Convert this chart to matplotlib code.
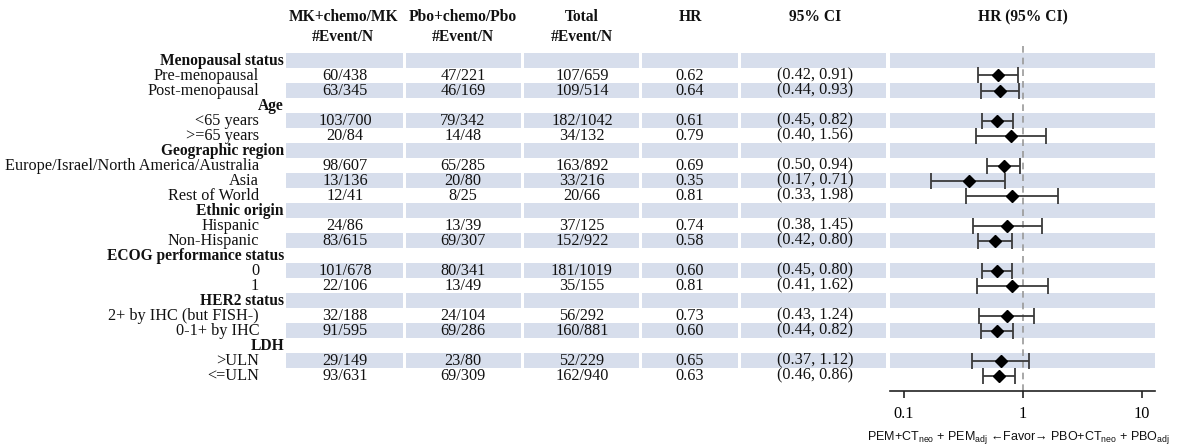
import numpy as np
import matplotlib
matplotlib.use("Agg")
import matplotlib.pyplot as plt
from matplotlib.patches import Rectangle

plt.rcParams['font.family'] = ['Liberation Serif', 'DejaVu Serif']
plt.rcParams['mathtext.fontset'] = 'custom'

# ---- data ----
row_labels = ["Menopausal status", "Pre-menopausal", "Post-menopausal",
              "Age", "<65 years", ">=65 years",
              "Geographic region", "Europe/Israel/North America/Australia", "Asia", "Rest of World",
              "Ethnic origin", "Hispanic", "Non-Hispanic",
              "ECOG performance status", "0", "1",
              "HER2 status", "2+ by IHC (but FISH-)", "0-1+ by IHC",
              "LDH", ">ULN", "<=ULN"]
is_header = [True, False, False, True, False, False, True, False, False, False,
             True, False, False, True, False, False, True, False, False, True, False, False]
mk_events = ["", "60/438", "63/345", "", "103/700", "20/84", "", "98/607", "13/136", "12/41",
             "", "24/86", "83/615", "", "101/678", "22/106", "", "32/188", "91/595", "", "29/149", "93/631"]
pbo_events = ["", "47/221", "46/169", "", "79/342", "14/48", "", "65/285", "20/80", "8/25",
              "", "13/39", "69/307", "", "80/341", "13/49", "", "24/104", "69/286", "", "23/80", "69/309"]
total_events = ["", "107/659", "109/514", "", "182/1042", "34/132", "", "163/892", "33/216", "20/66",
                "", "37/125", "152/922", "", "181/1019", "35/155", "", "56/292", "160/881", "", "52/229", "162/940"]
hr = [np.nan, 0.62, 0.64, np.nan, 0.61, 0.79, np.nan, 0.69, 0.35, 0.81,
      np.nan, 0.74, 0.58, np.nan, 0.60, 0.81, np.nan, 0.73, 0.60, np.nan, 0.65, 0.63]
ci_lo = [np.nan, 0.42, 0.44, np.nan, 0.45, 0.40, np.nan, 0.50, 0.17, 0.33,
         np.nan, 0.38, 0.42, np.nan, 0.45, 0.41, np.nan, 0.43, 0.44, np.nan, 0.37, 0.46]
ci_hi = [np.nan, 0.91, 0.93, np.nan, 0.82, 1.56, np.nan, 0.94, 0.71, 1.98,
         np.nan, 1.45, 0.80, np.nan, 0.80, 1.62, np.nan, 1.24, 0.82, np.nan, 1.12, 0.86]

shade = '#D7DEEC'
fs = 11.7     # body text
fsb = 11.2    # bold headers
txt = '#111111'

fig = plt.figure(figsize=(11.8, 4.48), dpi=100)

# table axes: x in pixels, y in row units
ax = fig.add_axes([0, 0, 1, 1])
ax.set_xlim(0, 1180)
ax.set_ylim(25.83, -4.033)
ax.axis('off')

rows = np.arange(len(row_labels))
col_spans = [(286, 403), (406, 521), (524, 639), (642, 738), (741, 886)]
for i in rows[::2]:
    for x0, x1 in col_spans:
        ax.add_patch(Rectangle((x0, i - 0.5), x1 - x0, 1.0, color=shade, lw=0, zorder=0))

# column headers
hdr_y1, hdr_y2 = -2.9, -1.57
headers = [(343, "MK+chemo/MK", "#Event/N"), (463, "Pbo+chemo/Pbo", "#Event/N"),
           (582, "Total", "#Event/N"), (690, "HR", ""), (815, "95% CI", ""), (1023, "HR (95% CI)", "")]
for x, l1, l2 in headers:
    ax.text(x, hdr_y1, l1, ha='center', va='center', fontsize=fsb, fontweight='bold', color=txt)
    if l2:
        ax.text(x, hdr_y2, l2, ha='center', va='center', fontsize=fsb, fontweight='bold', color=txt)

for i in rows:
    if is_header[i]:
        ax.text(284, i, row_labels[i], ha='right', va='center', fontsize=fsb, fontweight='bold', color=txt)
        continue
    ax.text(259, i, row_labels[i], ha='right', va='center', fontsize=fs, color=txt)
    ax.text(345, i, mk_events[i], ha='center', va='center', fontsize=fs, color=txt)
    ax.text(463, i, pbo_events[i], ha='center', va='center', fontsize=fs, color=txt)
    ax.text(582, i, total_events[i], ha='center', va='center', fontsize=fs, color=txt)
    ax.text(690, i, "{:.2f}".format(hr[i]), ha='center', va='center', fontsize=fs, color=txt)
    ax.text(815, i, "({:.2f}, {:.2f})".format(ci_lo[i], ci_hi[i]), ha='center', va='center', fontsize=fs, color=txt)

# forest plot
fax = fig.add_axes([890 / 1180, (448 - 391) / 448, 265 / 1180, (391 - 45) / 448])
fax.patch.set_alpha(0)
fax.set_xscale('log')
fax.set_xlim(10 ** -1.118, 10 ** 1.109)
fax.set_ylim(22.03, -1.033)
for i in rows[::2]:
    fax.axhspan(i - 0.5, i + 0.5, color=shade, lw=0, zorder=0)
fax.axvline(1, color='#999999', lw=1.2, ls=(0, (4, 3)), zorder=1)

hr_a = np.array(hr)
lo_a = np.array(ci_lo)
hi_a = np.array(ci_hi)
m = ~np.isnan(hr_a)
fax.errorbar(hr_a[m], rows[m], xerr=[hr_a[m] - lo_a[m], hi_a[m] - hr_a[m]],
             fmt='D', color='black', ms=6.5, ecolor='#3a3a3a', elinewidth=1.3,
             capsize=6, capthick=1.3, zorder=3)

for s in ['top', 'left', 'right']:
    fax.spines[s].set_visible(False)
fax.spines['bottom'].set_linewidth(1.2)
fax.spines['bottom'].set_color('#222222')
fax.set_yticks([])
fax.set_xticks([0.1, 1, 10])
fax.set_xticklabels(['0.1', '1', '10'])
fax.xaxis.set_minor_locator(matplotlib.ticker.NullLocator())
fax.tick_params(axis='x', direction='out', length=5, width=1.2, pad=6, labelsize=fs, color='#222222')

fig.text(867 / 1180, 1 - 440 / 448,
         r"PEM+CT$_{\mathregular{neo}}$ + PEM$_{\mathregular{adj}}$ ←Favor→ PBO+CT$_{\mathregular{neo}}$ + PBO$_{\mathregular{adj}}$",
         ha='left', va='baseline', fontsize=9.0, color=txt,
         family=['Liberation Sans', 'DejaVu Sans'])

fig.savefig('out.png', dpi=100)
